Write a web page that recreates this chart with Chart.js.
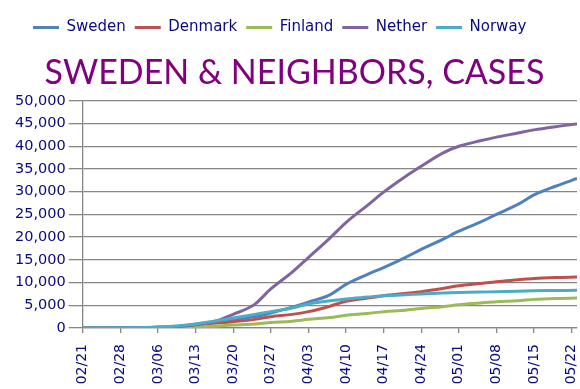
<!DOCTYPE html>
<html>
<head>
<meta charset="utf-8">
<script src="https://cdn.jsdelivr.net/npm/chart.js@4/dist/chart.umd.min.js"></script>
<style>
  html, body { margin: 0; padding: 0; background: #fff; }
  #wrap { width: 580px; height: 389px; }
</style>
</head>
<body>
<div id="wrap"><canvas id="chart" width="580" height="389"></canvas></div>
<script>
'use strict'

// dates the values were read at (2020), and the weekly axis labels
const sampleDates = ['02/21', '03/01', '03/06', '03/10', '03/13', '03/17', '03/20', '03/24', '03/27',
  '03/31', '04/03', '04/07', '04/10', '04/14', '04/17', '04/21', '04/24', '04/28', '05/01',
  '05/05', '05/08', '05/12', '05/15', '05/19', '05/23']
const tickLabels = ['02/21', '02/28', '03/06', '03/13', '03/20', '03/27', '04/03', '04/10',
  '04/17', '04/24', '05/01', '05/08', '05/15', '05/22']

const sweden  = [0, 10, 200, 400, 800, 1300, 1800, 2500, 3300, 4600, 5700, 7300, 9600,
  11800, 13300, 15500, 17300, 19500, 21300, 23300, 25000, 27200, 29300, 31200, 32900]
const denmark = [0, 0, 20, 200, 700, 1100, 1400, 1900, 2500, 3000, 3600, 4800, 5900,
  6600, 7100, 7600, 8000, 8700, 9300, 9800, 10200, 10600, 10900, 11100, 11200]
const finland = [0, 0, 0, 50, 200, 450, 650, 900, 1200, 1500, 1900, 2300, 2800,
  3200, 3600, 3900, 4300, 4700, 5100, 5500, 5800, 6000, 6300, 6500, 6600]
const nether  = [0, 0, 100, 350, 700, 1600, 3000, 5200, 8600, 12300, 15500, 19800, 23200,
  27000, 29900, 33300, 35600, 38500, 40000, 41200, 42000, 42900, 43600, 44300, 44900]
const norway  = [0, 50, 200, 500, 900, 1600, 2200, 3000, 3600, 4400, 5300, 6000, 6400,
  6800, 7100, 7300, 7500, 7700, 7800, 7900, 8000, 8100, 8200, 8250, 8300]

function dayIndex(md) {
  const [m, d] = md.split('/').map(Number)
  return Math.round((new Date(2020, m - 1, d) - new Date(2020, 1, 21)) / 86400000)
}

function series(label, values, color, order) {
  return {
    label,
    data: values.map((v, i) => ({ x: dayIndex(sampleDates[i]), y: v })),
    borderColor: color,
    backgroundColor: color,
    borderWidth: 3,
    pointRadius: 0,
    cubicInterpolationMode: 'monotone',
    order,
  }
}

// legend sits a little right of the canvas edge in the original
const shiftLegend = {
  id: 'shiftLegend',
  afterLayout(chart) {
    chart.legend.left += 12
    chart.legend.right += 12
  },
}

const navy = '#0a0a80'
const gridGray = '#868686'

new Chart(document.getElementById('chart'), {
  type: 'line',
  data: {
    datasets: [
      series('Sweden',  sweden,  '#4f81bd', 5),
      series('Denmark', denmark, '#c0504d', 4),
      series('Finland', finland, '#9bbb59', 3),
      series('Nether',  nether,  '#8064a2', 2),
      series('Norway',  norway,  '#4bacc6', 1),
    ],
  },
  plugins: [shiftLegend],
  options: {
    responsive: false,
    animation: false,
    devicePixelRatio: 1,
    layout: { padding: { top: 11, left: 12, right: 3, bottom: 0 } },
    plugins: {
      legend: {
        position: 'top',
        align: 'start',
        weight: 3000,
        labels: {
          usePointStyle: true,
          pointStyle: 'line',
          pointStyleWidth: 26,
          padding: 9,
          color: navy,
          font: { family: 'DejaVu Sans', size: 15 },
          sort: (a, b) => a.datasetIndex - b.datasetIndex,
        },
      },
      title: {
        display: true,
        text: 'SWEDEN & NEIGHBORS, CASES',
        color: '#800080',
        font: { family: 'Lato', size: 34, weight: 'normal' },
        padding: { top: 8, bottom: 7 },
      },
      tooltip: { enabled: false },
    },
    scales: {
      x: {
        type: 'linear',
        min: 0,
        max: dayIndex('05/23'),
        afterBuildTicks: scale => { scale.ticks = tickLabels.map((_, i) => ({ value: i * 7 })) },
        afterFit: scale => { scale.paddingRight = 0; scale.height = 61 },
        grid: { drawOnChartArea: false, color: gridGray, tickLength: 5, lineWidth: 1.3 },
        border: { color: gridGray, width: 1.3 },
        ticks: {
          autoSkip: false,
          minRotation: 90,
          maxRotation: 90,
          padding: 11,
          color: navy,
          font: { family: 'DejaVu Sans', size: 14 },
          callback: (v) => tickLabels[Math.round(v / 7)],
        },
      },
      y: {
        min: 0,
        max: 50000,
        grid: { color: gridGray, tickLength: 14, lineWidth: 1.3 },
        border: { color: gridGray, width: 1.3 },
        ticks: {
          stepSize: 5000,
          padding: 3,
          color: navy,
          font: { family: 'DejaVu Sans', size: 14.5 },
          callback: (v) => v.toLocaleString('en-US'),
        },
      },
    },
  },
})
</script>
</body>
</html>
